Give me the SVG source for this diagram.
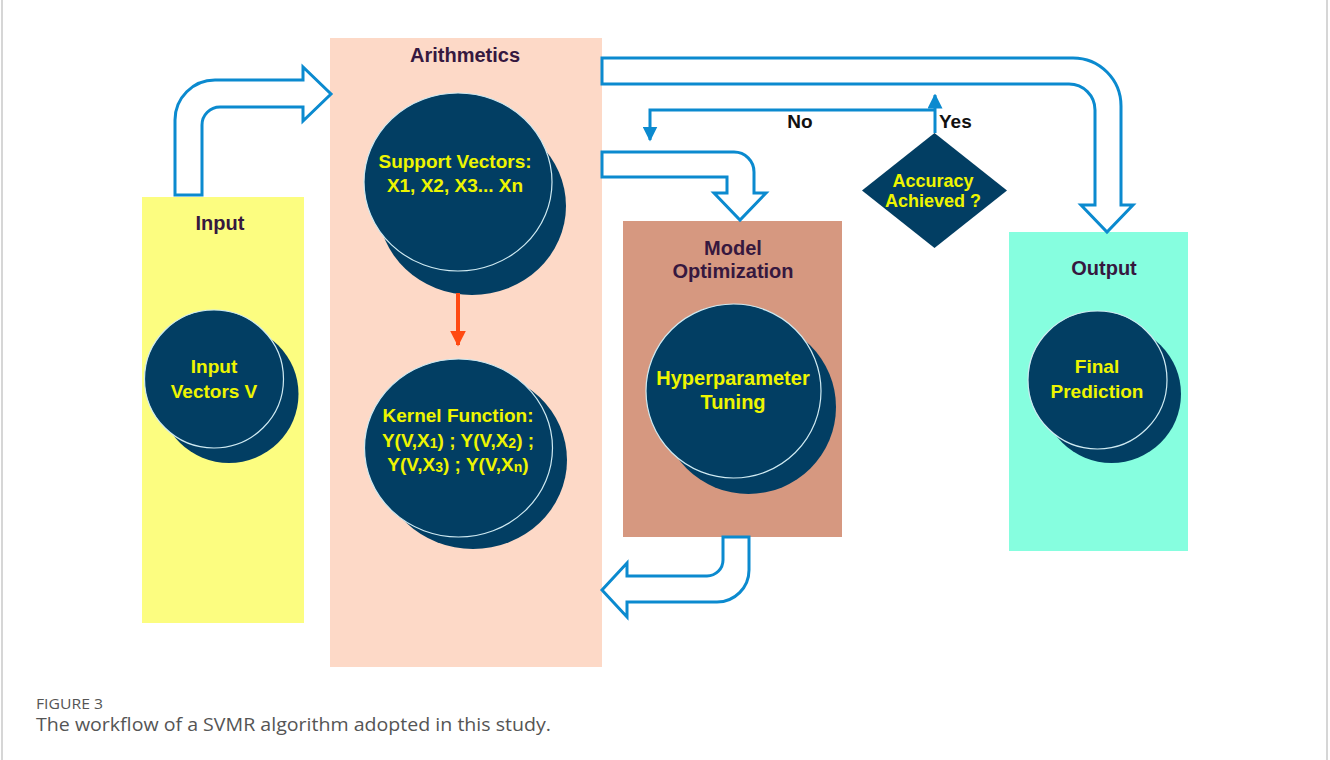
<svg xmlns="http://www.w3.org/2000/svg" width="1330" height="760" viewBox="0 0 1330 760">
<defs>
<style>
.lbl{font-family:"Liberation Sans",Arial,sans-serif;font-weight:bold;font-size:20px;fill:#36183f;text-anchor:middle}
.ct{font-family:"Liberation Sans",Arial,sans-serif;font-weight:bold;font-size:19px;fill:#eef500;text-anchor:middle}
.sub{font-size:14px}
.yn{font-family:"Liberation Sans",Arial,sans-serif;font-weight:bold;font-size:19px;fill:#111}
.back{fill:#023e63}
.front{fill:#023e63;stroke:#cfeaf2;stroke-width:1.2}
.big{fill:#fff;stroke:#0b8acf;stroke-width:3;stroke-linejoin:miter}
.thin{fill:none;stroke:#0b8acf;stroke-width:3}
.cap{font-family:"Open Sans","Liberation Sans",sans-serif;fill:#555}
</style>
<marker id="ab" viewBox="0 0 10 10" refX="9" refY="5" markerWidth="5" markerHeight="5" orient="auto-start-reverse" markerUnits="strokeWidth">
<path d="M0,0 L10,5 L0,10 Z" fill="#0b8acf"/>
</marker>
<marker id="ar" viewBox="0 0 10 10" refX="9" refY="5" markerWidth="4" markerHeight="4" orient="auto" markerUnits="strokeWidth">
<path d="M0,0 L10,5 L0,10 Z" fill="#ff4a12"/>
</marker>
</defs>
<rect x="0" y="0" width="1330" height="760" fill="#fff"/>
<line x1="2" y1="0" x2="2" y2="760" stroke="#c8c8c8" stroke-width="1.5"/>
<line x1="1327" y1="0" x2="1327" y2="760" stroke="#c8c8c8" stroke-width="1.5"/>

<g id="input">
<rect x="142" y="197" width="162" height="426" fill="#fcfd80"/>
<text class="lbl" x="220" y="230">Input</text>
<ellipse class="back" cx="229" cy="394" rx="69.5" ry="69"/>
<ellipse class="front" cx="214" cy="379" rx="69.5" ry="69"/>
<text class="ct" x="214" y="373">Input</text>
<text class="ct" x="214" y="398">Vectors V</text>
</g>

<g id="arithmetics">
<rect x="330" y="38" width="272" height="629" fill="#fdd9c7"/>
<text class="lbl" x="465" y="62">Arithmetics</text>
</g>

<g id="support-vectors">
<ellipse class="back" cx="472" cy="206" rx="94" ry="89"/>
<ellipse class="front" cx="458" cy="182" rx="94" ry="89"/>
<text class="ct" x="455" y="168">Support Vectors:</text>
<text class="ct" x="455" y="192">X1, X2, X3... Xn</text>
</g>

<g id="kernel-function">
<ellipse class="back" cx="473" cy="460" rx="94" ry="89"/>
<ellipse class="front" cx="458.5" cy="448" rx="94" ry="89"/>
<text class="ct" x="458" y="422">Kernel Function:</text>
<text class="ct" x="458" y="447">Y(V,X<tspan class="sub" dy="1">1</tspan><tspan dy="-1">) ; Y(V,X</tspan><tspan class="sub" dy="1">2</tspan><tspan dy="-1">) ;</tspan></text>
<text class="ct" x="458" y="471">Y(V,X<tspan class="sub" dy="1">3</tspan><tspan dy="-1">) ; Y(V,X</tspan><tspan class="sub" dy="1">n</tspan><tspan dy="-1">)</tspan></text>
</g>

<g id="model-optimization">
<rect x="623" y="221" width="219" height="316" fill="#d69880"/>
<text class="lbl" x="733" y="255">Model</text>
<text class="lbl" x="733" y="278">Optimization</text>
<ellipse class="back" cx="748.5" cy="407" rx="87.5" ry="87"/>
<ellipse class="front" cx="733.5" cy="391" rx="87.5" ry="87"/>
<text class="ct" x="733" y="385" style="font-size:20px">Hyperparameter</text>
<text class="ct" x="733" y="409" style="font-size:20px">Tuning</text>
</g>

<g id="accuracy">
<polygon points="934.5,133 1007,190.5 934.5,248 862,190.5" fill="#023e63"/>
<text class="ct" x="933" y="187" style="font-size:18px">Accuracy</text>
<text class="ct" x="933" y="207" style="font-size:18px">Achieved ?</text>
</g>

<g id="output">
<rect x="1009" y="232" width="179" height="319" fill="#86fedf"/>
<text class="lbl" x="1104" y="275">Output</text>
<ellipse class="back" cx="1111.5" cy="394" rx="69.5" ry="69"/>
<ellipse class="front" cx="1097.5" cy="380" rx="69.5" ry="69"/>
<text class="ct" x="1097" y="373">Final</text>
<text class="ct" x="1097" y="398">Prediction</text>
</g>

<g id="connectors">
<path class="big" d="M175,195 V120 A40,40 0 0 1 215,80 H303 V67 L331,94 L303,121 V107 H220 A18,18 0 0 0 202,125 V195 Z"/>
<path class="big" d="M602,58 H1073 A48,48 0 0 1 1121,106 V205 H1133 L1107,232 L1081,205 H1095 V110 A26,26 0 0 0 1069,84 H602 Z"/>
<path class="big" d="M602,152 H734 A20,20 0 0 1 754,172 V193 H766 L740,220 L714,193 H727 V177 H602 Z"/>
<path class="big" d="M723,537 H749 V570 A32,32 0 0 1 717,602 H627 V617 L602,590 L627,563 V576 H707 A16,16 0 0 0 723,560 Z"/>
<line x1="458" y1="293" x2="458" y2="345" stroke="#ff4a12" stroke-width="4" marker-end="url(#ar)"/>
<polyline class="thin" points="935,133 935,95" marker-end="url(#ab)"/>
<polyline class="thin" points="935,110 650,110 650,140" marker-end="url(#ab)"/>
<text class="yn" x="800" y="128" text-anchor="middle">No</text>
<text class="yn" x="939" y="128">Yes</text>
</g>

<text class="cap" x="36" y="709" style="font-size:14px" textLength="67" lengthAdjust="spacingAndGlyphs">FIGURE 3</text>
<text class="cap" x="36" y="731" style="font-size:19px" textLength="515" lengthAdjust="spacingAndGlyphs">The workflow of a SVMR algorithm adopted in this study.</text>
</svg>
